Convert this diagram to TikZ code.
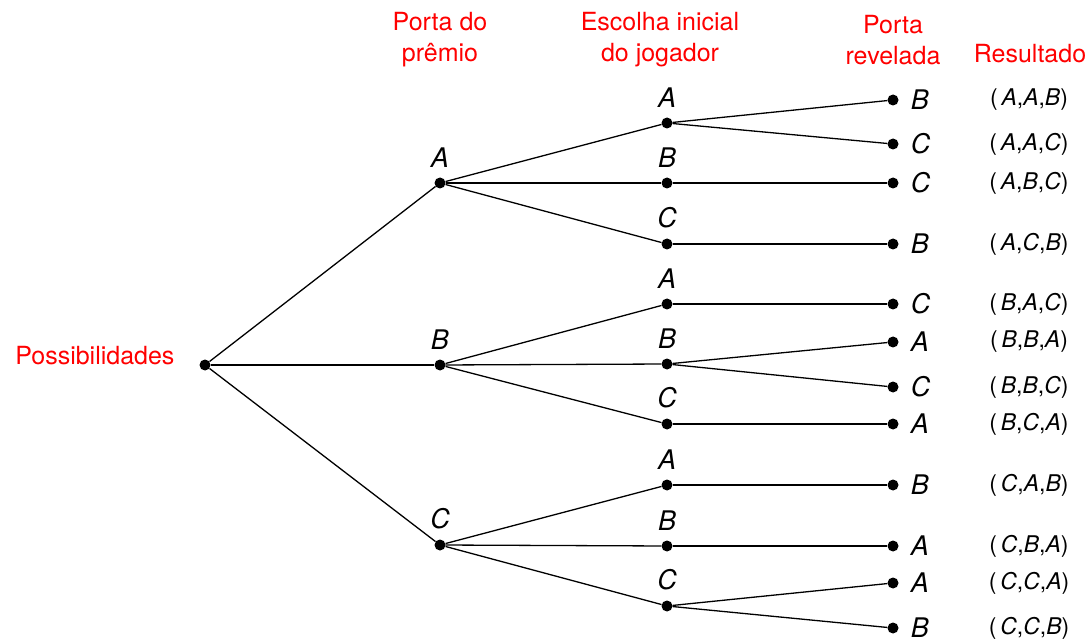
\documentclass[tikz,border=0pt]{standalone}
\usepackage{fontspec}
\setmainfont{TeX Gyre Heros}
\usetikzlibrary{positioning}

\tikzset{
  dot/.style={circle, fill=black, inner sep=0pt, minimum size=11pt},
  head/.style={red, align=center, font=\fontsize{25}{31}\selectfont},
  lbl/.style={font=\fontsize{27}{30}\selectfont\itshape, inner sep=1pt},
  res/.style={font=\fontsize{23}{28}\selectfont},
  branch/.style={line width=1.3pt},
}

\begin{document}
\begin{tikzpicture}[x=1pt, y=-1pt]
    \useasboundingbox (0,0) rectangle (1088,639);

    % Column headers
    \node[head] (hprize) at (440,40) {Porta do\\prêmio};
    \node[head] (hchoice) at (660,40) {Escolha inicial\\do jogador};
    \node[head] (hopen) at (893,40) {Porta\\revelada};
    \node[head] (hres) at (1030,54) {Resultado};

    % Root
    \node[dot] (root) at (205,365) {};
    \node[head, anchor=east] (poss) at (178,356) {Possibilidades};

    % Prize door
    \foreach \n/\y/\l in {pA/183/A, pB/365/B, pC/545/C} {
        \node[dot, label={[lbl, label distance=9pt]above:\l}] (\n) at (440,\y) {};
        \draw[branch] (root) -- (\n);
    }

    % Initial choice of the player
    \foreach \n/\y/\p/\l in {a1/123/pA/A, a2/183/pA/B, a3/244/pA/C,
                             b1/304/pB/A, b2/364/pB/B, b3/424/pB/C,
                             c1/485/pC/A, c2/546/pC/B, c3/606/pC/C} {
        \node[dot, label={[lbl, label distance=9pt]above:\l}] (\n) at (667,\y) {};
        \draw[branch] (\p) -- (\n);
    }

    % Revealed door and result
    \foreach \y/\p/\l/\ra/\rb/\rc [count=\i] in {100/a1/B/A/A/B, 144/a1/C/A/A/C,
                             183/a2/C/A/B/C, 244/a3/B/A/C/B,
                             304/b1/C/B/A/C, 342/b2/A/B/B/A,
                             387/b2/C/B/B/C, 424/b3/A/B/C/A,
                             485/c1/B/C/A/B, 546/c2/A/C/B/A,
                             583/c3/A/C/C/A, 628/c3/B/C/C/B} {
        \node[dot, label={[lbl, label distance=11pt]right:\l}] (d\i) at (893,\y) {};
        \draw[branch] (\p) -- (d\i);
        \node[res] (r\i) at (1029,\y) {(\,\textit{\ra},\textit{\rb},\textit{\rc})};
    }
\end{tikzpicture}
\end{document}
